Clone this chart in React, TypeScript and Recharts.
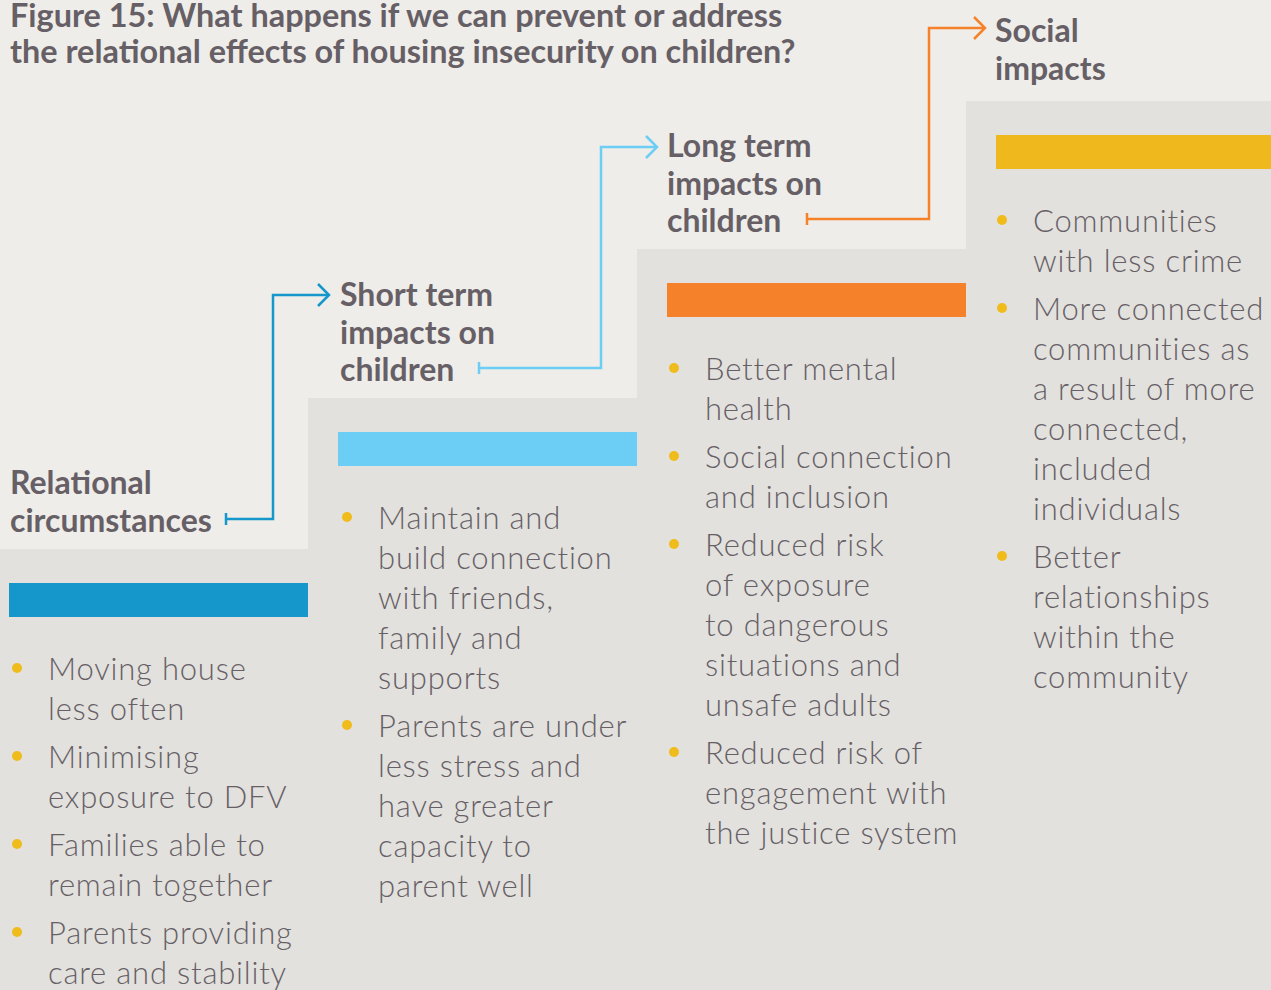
import React from 'react';
import { ComposedChart, Area, Line, ReferenceArea, XAxis, YAxis } from 'recharts';

const W = 1271;
const H = 990;

const BG = '#eeede9';
const STEP = '#e2e1dd';
const TEXT = '#675f66';
const DOT = '#f0bc1c';

// stages, left to right
const stageNames = [
  ['Relational', 'circumstances'],
  ['Short term', 'impacts on', 'children'],
  ['Long term', 'impacts on', 'children'],
  ['Social', 'impacts'],
];
const stageColors = ['#1597cb', '#6ccdf5', '#f5822a', '#efb91d'];

// where each step starts (x) and how high its top is (y from top)
const stepStart = [0, 308, 637, 966];
const stepTop = [549, 398, 249, 101];

const outcomes = [
  [
    ['Moving house', 'less often'],
    ['Minimising', 'exposure to DFV'],
    ['Families able to', 'remain together'],
    ['Parents providing', 'care and stability'],
  ],
  [
    ['Maintain and', 'build connection', 'with friends,', 'family and', 'supports'],
    ['Parents are under', 'less stress and', 'have greater', 'capacity to', 'parent well'],
  ],
  [
    ['Better mental', 'health'],
    ['Social connection', 'and inclusion'],
    ['Reduced risk', 'of exposure', 'to dangerous', 'situations and', 'unsafe adults'],
    ['Reduced risk of', 'engagement with', 'the justice system'],
  ],
  [
    ['Communities', 'with less crime'],
    ['More connected', 'communities as', 'a result of more', 'connected,', 'included', 'individuals'],
    ['Better', 'relationships', 'within the', 'community'],
  ],
];

const titleLines = [
  'Figure 15: What happens if we can prevent or address',
  'the relational effects of housing insecurity on children?',
];

// layout
const headX = [10, 340, 667, 995];
const headY = [494, 306, 157, 42];
const listX = [48, 378, 705, 1033];
const listY = [680, 529, 380, 232];
const LINE = 40;
const GAP = 8;

// connectors: from heading i to heading i+1
const arrowStart = [
  { x: 226, y: 519 },
  { x: 479, y: 368 },
  { x: 807, y: 219 },
];
const arrowRiseX = [273, 601, 929];
const arrowEnd = [
  { x: 329, y: 295 },
  { x: 657, y: 147 },
  { x: 985, y: 28 },
];

const stepData = [
  ...stepStart.map((x, i) => ({ x, top: stepTop[i] })),
  { x: W, top: stepTop[stepTop.length - 1] },
];

const font = 'Lato, "Open Sans", sans-serif';

function Texts() {
  return (
    <g fontFamily={font} fill={TEXT}>
      {titleLines.map((t, i) => (
        <text key={'t' + i} x={10} y={27 + i * 36} fontSize={32.4} fontWeight={700}>
          {t}
        </text>
      ))}
      {stageNames.map((lines, s) =>
        lines.map((l, j) => (
          <text key={`h${s}-${j}`} x={headX[s]} y={headY[s] + j * 37.5} fontSize={32} fontWeight={700}>
            {l}
          </text>
        ))
      )}
      {outcomes.map((items, s) => {
        let y = listY[s];
        const out: React.ReactNode[] = [];
        items.forEach((item, k) => {
          out.push(<circle key={`d${s}-${k}`} cx={listX[s] - 31} cy={y - 12} r={5} fill={DOT} />);
          item.forEach((l, j) => {
            out.push(
              <text
                key={`b${s}-${k}-${j}`}
                x={listX[s]}
                y={y}
                fontSize={31}
                fontWeight={300}
                letterSpacing={0.8}
              >
                {l}
              </text>
            );
            y += LINE;
          });
          y += GAP;
        });
        return <g key={'l' + s}>{out}</g>;
      })}
    </g>
  );
}

export default function App() {
  return (
    <div style={{ position: 'absolute', left: 0, top: 0, width: W, height: H, background: BG }}>
      <ComposedChart width={W} height={H} margin={{ top: 0, right: 0, bottom: 0, left: 0 }}>
        <XAxis type="number" dataKey="x" domain={[0, W]} hide allowDataOverflow />
        <YAxis type="number" domain={[0, H]} reversed hide allowDataOverflow />
        <Area
          data={stepData}
          dataKey="top"
          type="stepAfter"
          baseValue={H}
          fill={STEP}
          fillOpacity={1}
          stroke="none"
          dot={false}
          activeDot={false}
          isAnimationActive={false}
        />
        {stageColors.map((c, i) => (
          <ReferenceArea
            key={'bar' + i}
            x1={stepStart[i] + (i === 0 ? 9 : 30)}
            x2={i < 3 ? stepStart[i + 1] : W}
            y1={stepTop[i] + 34}
            y2={stepTop[i] + 68}
            fill={c}
            fillOpacity={1}
            stroke="none"
          />
        ))}
        {arrowStart.map((p, i) => {
          const e = arrowEnd[i];
          const c = stageColors[i];
          const path = [p, { x: arrowRiseX[i], y: p.y }, { x: arrowRiseX[i], y: e.y }, e];
          const tick = [{ x: p.x, y: p.y - 6 }, { x: p.x, y: p.y + 6 }];
          const head = [{ x: e.x - 11, y: e.y - 11 }, e, { x: e.x - 11, y: e.y + 11 }];
          return [
            <Line key={'ap' + i} data={path} dataKey="y" type="linear" stroke={c} strokeWidth={2.5} dot={false} activeDot={false} isAnimationActive={false} strokeLinejoin="miter" />,
            <Line key={'at' + i} data={tick} dataKey="y" type="linear" stroke={c} strokeWidth={2.5} dot={false} activeDot={false} isAnimationActive={false} />,
            <Line key={'ah' + i} data={head} dataKey="y" type="linear" stroke={c} strokeWidth={2.5} dot={false} activeDot={false} isAnimationActive={false} strokeLinejoin="miter" />,
          ];
        })}
      </ComposedChart>
      <svg
        width={W}
        height={H}
        style={{ position: 'absolute', left: 0, top: 0, pointerEvents: 'none' }}
      >
        <Texts />
      </svg>
    </div>
  );
}
